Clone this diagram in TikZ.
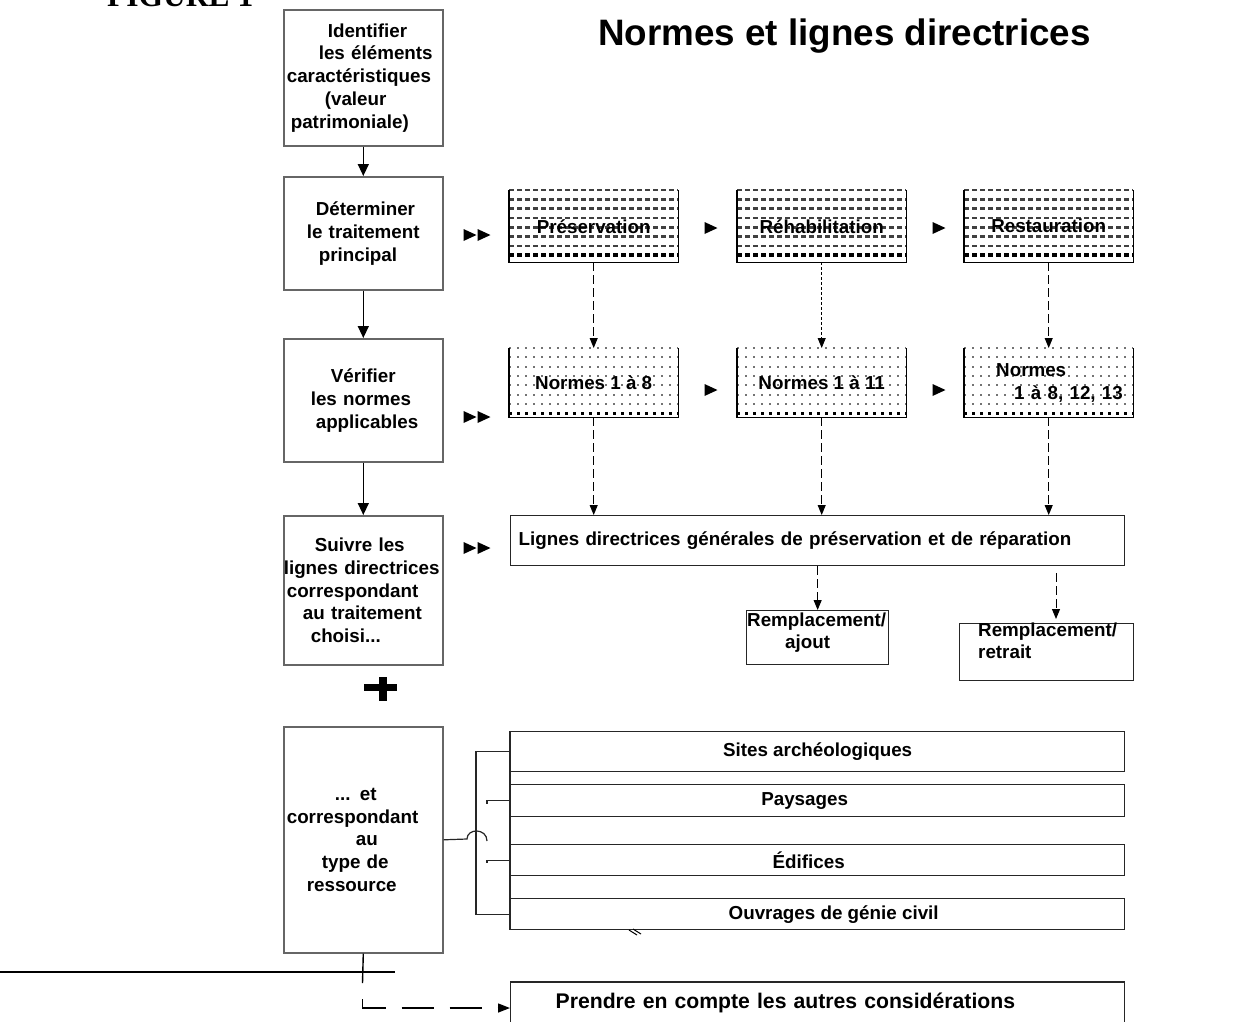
\documentclass[tikz,border=0pt]{standalone}
\usepackage{fontspec}
\setmainfont{Liberation Sans}
\newfontfamily\figfont{Liberation Serif}
\usetikzlibrary{positioning,calc,backgrounds,arrows.meta}

\newcommand{\boxfont}{\bfseries\fontsize{18.8}{22.8}\selectfont}
\newcommand{\playmark}[1]{\fill (#1) ++(-6.5,-6) -- ++(13,6) -- ++(-13,6) -- cycle;}

\tikzset{
  stepbox/.style={draw=black!60, line width=1.6pt, anchor=north west,
    minimum width=159pt, text width=159pt, inner xsep=0pt, align=left, font=\boxfont},
  patbox/.style={anchor=north west, minimum width=169pt, inner sep=0pt, font=\boxfont},
  whitebox/.style={draw=black!85, line width=1.3pt, anchor=north west,
    minimum width=614pt, inner sep=0pt, font=\boxfont},
  dashrow/.style={draw=black!75, line width=2.6pt, dash pattern=on 4.5pt off 3.5pt},
  dotrow/.style={draw=black!55, line width=2pt, dash pattern=on 2pt off 6pt},
  flow/.style={line width=1.4pt, -{Triangle[length=12pt,width=11pt]}},
  dashflow/.style={line width=1pt, dash pattern=on 9pt off 4pt, -{Triangle[length=10pt,width=8pt]}},
  dotflow/.style={line width=0.8pt, dash pattern=on 3pt off 2pt, -{Triangle[length=10pt,width=8pt]}},
  longdash/.style={line width=1.4pt, dash pattern=on 32pt off 16pt, dash phase=32pt,
    -{Triangle[length=12pt,width=9pt]}},
  bline/.style={line width=1.2pt, draw=black!85}
}

\begin{document}
\begin{tikzpicture}[x=1pt,y=-1pt]
\useasboundingbox (0,0) rectangle (1259,1021);

% titres
\node[font=\figfont\bfseries\fontsize{31.5}{34}\selectfont, anchor=base west, inner sep=0pt] (fig) at (107,6) {FIGURE 1};
\node[font=\bfseries\fontsize{36.8}{40}\selectfont, anchor=base, inner sep=0pt] (titre) at (844.5,45) {Normes et lignes directrices};

% colonne des etapes
\node[stepbox, minimum height=136pt] (ident) at (283,9) {\hspace*{44pt}Identifier\\
  \hspace*{35pt}les éléments\\ \hspace*{3pt}caractéristiques\\ \hspace*{41pt}(valeur\\ \hspace*{7pt}patrimoniale)};
\node[stepbox, minimum height=113pt] (trait) at (283,176) {\hspace*{32pt}Déterminer\\
  \hspace*{23pt}le traitement\\ \hspace*{35pt}principal};
\node[stepbox, minimum height=123pt] (verif) at (283,338) {\hspace*{47pt}Vérifier\\
  \hspace*{27pt}les normes\\ \hspace*{32pt}applicables};
\node[stepbox, minimum height=149pt] (suivre) at (283,515) {\hspace*{31pt}Suivre les\\
  lignes directrices\\ \hspace*{3pt}correspondant\\ \hspace*{19pt}au traitement\\ \hspace*{27pt}choisi...};
\node[stepbox, minimum height=226pt] (ress) at (283,726) {\hspace*{51pt}... et\\
  \hspace*{3pt}correspondant\\ \hspace*{72pt}au\\ \hspace*{38pt}type de\\ \hspace*{23pt}ressource};

% traitements et normes
\node[patbox, minimum height=72pt] (pres) at (509,190) {Préservation};
\node[patbox, minimum height=72pt] (rehab) at (737,190) {Réhabilitation};
\node[patbox, minimum height=72pt] (rest) at (964,190) {Restauration};
\node[patbox, minimum height=69pt] (npres) at (509,348) {Normes 1 à 8};
\node[patbox, minimum height=69pt] (nrehab) at (737,348) {Normes 1 à 11};
\node[patbox, minimum height=69pt, text width=169pt, align=left] (nrest) at (964,348) {\hspace*{32pt}Normes\\
  \hspace*{50pt}1 à 8, 12, 13};

\begin{scope}[on background layer]
  \foreach \n in {pres,rehab,rest}{
    \foreach \k in {0,...,6}{
      \draw[dashrow] ($(\n.north west)+(0,9.3*\k)$) -- ($(\n.north east)+(0,9.3*\k)$);
    }
    \draw[dashrow, draw=black, line width=3.2pt] ($(\n.north west)+(0,65)$) -- ($(\n.north east)+(0,65)$);
    \draw[line width=1.2pt] (\n.north west) |- (\n.south east) -- (\n.north east);
  }
  \foreach \n in {npres,nrehab,nrest}{
    \foreach \k in {0,...,6}{
      \draw[dotrow] ($(\n.north west)+(0,9.3*\k)$) -- ($(\n.north east)+(0,9.3*\k)$);
    }
    \draw[dotrow, draw=black, line width=3pt, dash pattern=on 3pt off 5pt] ($(\n.north west)+(0,65)$) -- ($(\n.north east)+(0,65)$);
    \draw[line width=1.2pt] (\n.north west) |- (\n.south east) -- (\n.north east);
  }
\end{scope}

% lignes directrices
\node[whitebox, minimum height=50pt, text width=598pt, inner xsep=8pt, align=left] (lignes) at (510,515)
  {Lignes directrices générales de préservation et de réparation};
\node[whitebox, minimum width=142pt, minimum height=54pt] (ajout) at (746,610) {};
\node[whitebox, minimum width=174pt, minimum height=57pt] (retrait) at (959,623) {};
\node[anchor=north west, inner sep=0pt, align=left, font=\boxfont] (ajouttxt) at (747,612.3)
  {Remplacement/\\ \hspace*{38pt}ajout};
\node[anchor=north west, inner sep=0pt, align=left, font=\boxfont] (retraittxt) at (978,622.3)
  {Remplacement/\\ retrait};

% types de ressource
\node[whitebox, minimum height=40pt] (sites) at (510,731) {Sites archéologiques};
\node[whitebox, minimum height=32pt] (pays) at (510,784) {\hspace{-26pt}Paysages};
\node[whitebox, minimum height=31pt] (edif) at (510,844) {\hspace{-18pt}Édifices};
\node[whitebox, minimum height=31pt] (ouvr) at (510,898) {\hspace{32pt}Ouvrages de génie civil};
\node[whitebox, anchor=west, minimum height=52pt, text width=614pt, align=left,
  text height=12pt, text depth=12pt, font=\bfseries\fontsize{21.2}{24}\selectfont] (prendre) at (510,1008)
  {\hspace*{45pt}Prendre en compte les autres considérations};

% fleches de la colonne
\draw[flow] (ident.south) -- (trait.north);
\draw[flow] (trait.south) -- (verif.north);
\draw[flow] (verif.south) -- (suivre.north);
\coordinate (coude) at (362.5,983);
\draw[line width=1.4pt] (ress.south) -- (coude);
\draw[longdash] (coude) |- (prendre.west);
\draw[line width=1.4pt] (0,972) -- (395,972);

% fleches pointillees
\draw[dashflow] (pres.south) -- (npres.north);
\draw[dotflow] (rehab.south) -- (nrehab.north);
\draw[dashflow] (rest.south) -- (nrest.north);
\draw[dashflow] (npres.south) -- (npres.south |- lignes.north);
\draw[dashflow] (nrehab.south) -- (nrehab.south |- lignes.north);
\draw[dashflow] (nrest.south) -- (nrest.south |- lignes.north);
\draw[dashflow] (ajout.north |- lignes.south) -- (ajout.north);
\coordinate (rtip) at (1056,619);
\draw[dashflow] ($(lignes.south -| rtip)+(0,7)$) -- (rtip);

% accolade vers les types
\coordinate (sautA) at (467,839);
\coordinate (sautB) at (487,841);
\draw[bline] (ress.east) -- (sautA) .. controls ($(sautA)+(0,-11)$) and ($(sautB)+(0,-13)$) .. (sautB);
\draw[bline] (sites.west) -- ++(-34,0) |- (ouvr.west);
\draw[bline] (pays.west) -- ++(-23,0) -- ++(0,3);
\draw[bline] (edif.west) -- ++(-23,0) -- ++(0,3);
\draw[bline] (sites.north west) -- (ouvr.south west);
\draw[line width=1pt] (629,930) -- (637,935) (633,929) -- (641,934);

% plus
\fill (364,684) rectangle (397,691);
\fill (379,677) rectangle (386.5,701);

% marques
\playmark{470,235}\playmark{484,235}
\playmark{470,417}\playmark{484,417}
\playmark{470,548}\playmark{484,548}
\playmark{711,228}\playmark{939,228}
\playmark{711,390}\playmark{939,390}
\end{tikzpicture}
\end{document}
